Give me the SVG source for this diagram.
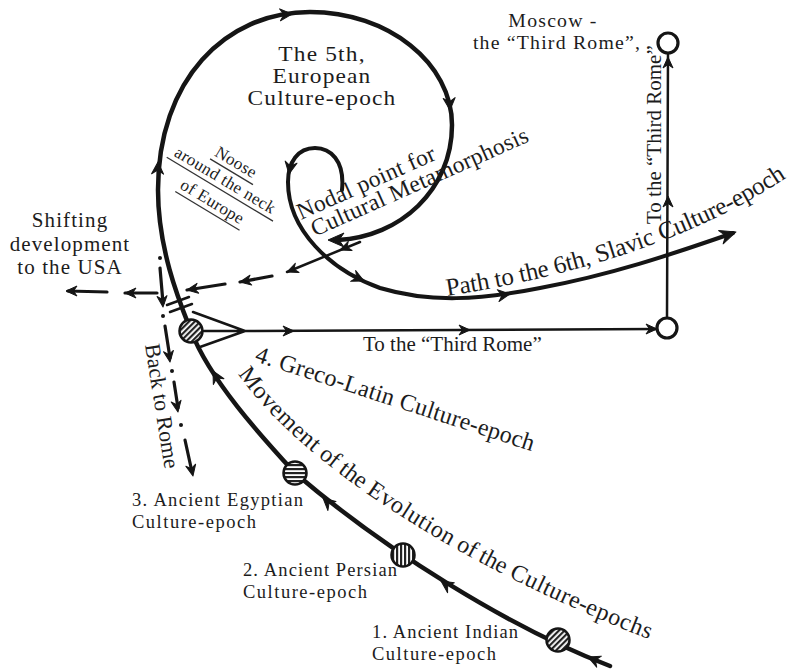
<svg xmlns="http://www.w3.org/2000/svg" width="807" height="671" viewBox="0 0 807 671">
<style>
text{font-family:'Liberation Serif','Times New Roman',serif;fill:#1c1c1c}
.main{fill:none;stroke:#151515;stroke-width:4.5;stroke-linecap:round;stroke-linejoin:round}
.p6{fill:none;stroke:#151515;stroke-width:4;stroke-linecap:round}
.thin{fill:none;stroke:#151515;stroke-width:2.5;stroke-linecap:round}
.dash{fill:none;stroke:#151515;stroke-width:3.2;stroke-linecap:round}
.rule{stroke:#333;stroke-width:1.3}
.ep{stroke:#151515;stroke-width:2.5}
.ring{fill:#fff;stroke:#151515;stroke-width:3.2}
.ah{fill:#151515;stroke:#151515;stroke-width:1;stroke-linejoin:round}
.dot{fill:#151515}
.lab{font-size:18.5px}
.mv{font-size:24px}
.sl{font-size:25px}
.ttl{font-size:20px;letter-spacing:1px}
.msc{font-size:19.8px;letter-spacing:1.2px}
</style>
<defs>
<path id="ah" d="M0,0 L-12,-6 L-8,0 L-12,6 Z"/>
<path id="as" d="M0,0 L-11,-5 L-7.5,0 L-11,5 Z"/>
<path id="ae" d="M0,0 L-16,-7 L-11,0 L-16,7 Z"/>
<pattern id="hd" width="4" height="4" patternUnits="userSpaceOnUse" patternTransform="rotate(45)"><rect width="4" height="4" fill="#fff"/><rect width="2.2" height="4" fill="#222"/></pattern>
<pattern id="hv" width="4" height="4" patternUnits="userSpaceOnUse"><rect width="4" height="4" fill="#fff"/><rect width="2.2" height="4" fill="#222"/></pattern>
<pattern id="hh" width="4" height="4" patternUnits="userSpaceOnUse" patternTransform="rotate(90)"><rect width="4" height="4" fill="#fff"/><rect width="2.2" height="4" fill="#222"/></pattern>
<path id="mvPath" d="M238,374 C291,450 430,555 656,642"/>
<path id="p6Path" d="M447,296 Q665,262 795,172"/>
</defs>

<g id="connectors">
  <!-- main evolution curve / spiral -->
  <path class="main" d="M610,666 C510,628 385,550 295,473 C260,435 210,380 191,331 C180,303 158,250 158,190 C158,80 225,12 310,12 C388,12 452,63 452,125 C452,190 400,237 338,240"/>
  <g class="ah">
    <use href="#ah" transform="translate(588,657) rotate(-157)"/>
    <use href="#ah" transform="translate(441,581) rotate(-146)"/>
    <use href="#ah" transform="translate(323,498) rotate(-138)"/>
    <use href="#ah" transform="translate(213,371) rotate(-118)"/>
    <use href="#ah" transform="translate(158,162) rotate(-88)"/>
    <use href="#ah" transform="translate(292,14) rotate(-4)"/>
    <use href="#ah" transform="translate(450,110) rotate(86)"/>
    <use href="#ae" transform="translate(328,240) rotate(180)"/>
  </g>
  <!-- path to the 6th -->
  <path class="p6" d="M342,190 C345,160 330,148 315,148 C298,148 288,162 288,182 C288,230 330,270 380,288 C430,303 480,300 540,288 C610,275 670,255 733,233"/>
  <g class="ah">
    <use href="#ah" transform="translate(289,174) rotate(100)"/>
    <use href="#ah" transform="translate(364,281) rotate(25)"/>
    <use href="#ah" transform="translate(510,294) rotate(-8)"/>
    <use href="#ae" transform="translate(736,232) rotate(-19)"/>
  </g>
  <!-- to the Third Rome -->
  <path class="thin" d="M193,312 L245,331 M200,347 L245,331 M204,331 L245,331 L657,329"/>
  <path class="thin" d="M667,318 L668,53"/>
  <g class="ah">
    <use href="#as" transform="translate(294,331)"/>
    <use href="#as" transform="translate(470,330)"/>
    <use href="#as" transform="translate(657,329)"/>
    <use href="#as" transform="translate(668,196) rotate(-90)"/>
    <use href="#as" transform="translate(668,57) rotate(-90)"/>
  </g>
  <!-- shifting to the USA -->
  <path class="thin" d="M360,242 L287,272"/>
  <path class="dash" d="M272,276 L240,282 M225,284 L187,290 M157,293 L125,293 M107,292 L68,291"/>
  <g class="ah">
    <use href="#as" transform="translate(340,250) rotate(158)"/>
    <use href="#as" transform="translate(287,272) rotate(158)"/>
    <use href="#as" transform="translate(240,282) rotate(170)"/>
    <use href="#as" transform="translate(187,290) rotate(171)"/>
    <use href="#as" transform="translate(125,293) rotate(180)"/>
    <use href="#as" transform="translate(66,291) rotate(180)"/>
  </g>
  <!-- back to Rome -->
  <path class="dash" d="M160,268 L163,303 M165,326 L170,358 M174,382 L178,408 M185,440 L192,472"/>
  <circle class="dot" cx="160" cy="258" r="2"/>
  <circle class="dot" cx="163" cy="316" r="2"/>
  <circle class="dot" cx="172" cy="371" r="2"/>
  <circle class="dot" cx="181" cy="425" r="2"/>
  <g class="ah">
    <use href="#as" transform="translate(163,307) rotate(85)"/>
    <use href="#as" transform="translate(170,362) rotate(82)"/>
    <use href="#as" transform="translate(178,412) rotate(80)"/>
    <use href="#as" transform="translate(193,476) rotate(78)"/>
  </g>
  <!-- crossing marks -->
  <path class="thin" d="M167,305 L189,297 M170,312 L192,304"/>
</g>

<g id="epoch-4">
  <circle class="ep" cx="191" cy="331" r="11.5" fill="url(#hd)"/>
  <text transform="translate(254,361) rotate(18)" font-size="24" textLength="292" lengthAdjust="spacing">4. Greco-Latin Culture-epoch</text>
</g>
<g id="epoch-3">
  <circle class="ep" cx="295" cy="473" r="11.5" fill="url(#hh)"/>
  <text class="lab" x="132" y="506" textLength="171" lengthAdjust="spacing">3. Ancient Egyptian</text>
  <text class="lab" x="132" y="528" textLength="124" lengthAdjust="spacing">Culture-epoch</text>
</g>
<g id="epoch-2">
  <circle class="ep" cx="403" cy="555" r="11.5" fill="url(#hv)"/>
  <text class="lab" x="243" y="576" textLength="154" lengthAdjust="spacing">2. Ancient Persian</text>
  <text class="lab" x="243" y="598" textLength="124" lengthAdjust="spacing">Culture-epoch</text>
</g>
<g id="epoch-1">
  <circle class="ep" cx="558" cy="640" r="11.5" fill="url(#hd)"/>
  <text class="lab" x="372" y="638" textLength="146" lengthAdjust="spacing">1. Ancient Indian</text>
  <text class="lab" x="372" y="660" textLength="124" lengthAdjust="spacing">Culture-epoch</text>
</g>

<g id="movement-label">
  <text class="mv"><textPath href="#mvPath" startOffset="0" textLength="109" lengthAdjust="spacing">Movement</textPath></text>
  <text class="mv"><textPath href="#mvPath" startOffset="115.4" textLength="53.8" lengthAdjust="spacing">of the</textPath></text>
  <text class="mv"><textPath href="#mvPath" startOffset="175.5" textLength="99.3" lengthAdjust="spacing">Evolution</textPath></text>
  <text class="mv"><textPath href="#mvPath" startOffset="281.1" textLength="53.8" lengthAdjust="spacing">of the</textPath></text>
  <text class="mv"><textPath href="#mvPath" startOffset="341.2" textLength="83.9" lengthAdjust="spacing">Culture-</textPath></text>
  <text class="mv"><textPath href="#mvPath" startOffset="425.1" textLength="69.9" lengthAdjust="spacing">epochs</textPath></text>
</g>

<g id="european-epoch" transform="translate(322,0) scale(1.17,1)">
  <text class="ttl" x="0" y="61" text-anchor="middle">The 5th,</text>
  <text class="ttl" x="0" y="83" text-anchor="middle">European</text>
  <text class="ttl" x="0" y="105" text-anchor="middle">Culture-epoch</text>
</g>

<g id="noose" transform="translate(171,154) rotate(31)">
  <text x="60" y="-21" font-size="17" text-anchor="middle" letter-spacing="0.4">Noose</text>
  <line class="rule" x1="36" y1="-16" x2="86" y2="-16"/>
  <text x="60" y="0" font-size="17" text-anchor="middle" letter-spacing="0.4">around the neck</text>
  <line class="rule" x1="-2" y1="5" x2="122" y2="5"/>
  <text x="60" y="25" font-size="17" text-anchor="middle" letter-spacing="0.4">of Europe</text>
  <line class="rule" x1="23" y1="30" x2="98" y2="30"/>
</g>

<g id="nodal-point" transform="translate(301,220) rotate(-24)">
  <text x="0" y="0" font-size="23.5" letter-spacing="0.3">Nodal point for</text>
  <text x="6" y="21" font-size="23.5" letter-spacing="0.3">Cultural Metamorphosis</text>
</g>

<g id="usa">
  <text x="70" y="227" font-size="21" text-anchor="middle" letter-spacing="1.1">Shifting</text>
  <text x="70" y="250.5" font-size="21" text-anchor="middle" letter-spacing="1.1">development</text>
  <text x="70" y="274" font-size="21" text-anchor="middle" letter-spacing="1.1">to the USA</text>
</g>

<g id="back-to-rome">
  <text transform="translate(145,345) rotate(81)" font-size="22">Back to Rome</text>
</g>

<g id="slavic-path">
  <text class="sl"><textPath href="#p6Path" startOffset="0" textLength="148.4" lengthAdjust="spacing">Path to the 6th,</textPath></text>
  <text class="sl"><textPath href="#p6Path" startOffset="154.5" textLength="61.2" lengthAdjust="spacing">Slavic</textPath></text>
  <text class="sl"><textPath href="#p6Path" startOffset="221.9" textLength="140.1" lengthAdjust="spacing">Culture-epoch</textPath></text>
</g>

<g id="third-rome">
  <circle class="ring" cx="667" cy="328" r="10"/>
  <text x="363" y="351" font-size="21">To the “Third Rome”</text>
  <text transform="translate(661,224) rotate(-90)" font-size="21">To the “Third Rome”</text>
</g>

<g id="moscow">
  <circle class="ring" cx="668" cy="43" r="10"/>
  <text class="msc" x="553" y="27" text-anchor="middle">Moscow -</text>
  <text class="msc" x="557" y="49" text-anchor="middle">the “Third Rome”,</text>
</g>
</svg>
